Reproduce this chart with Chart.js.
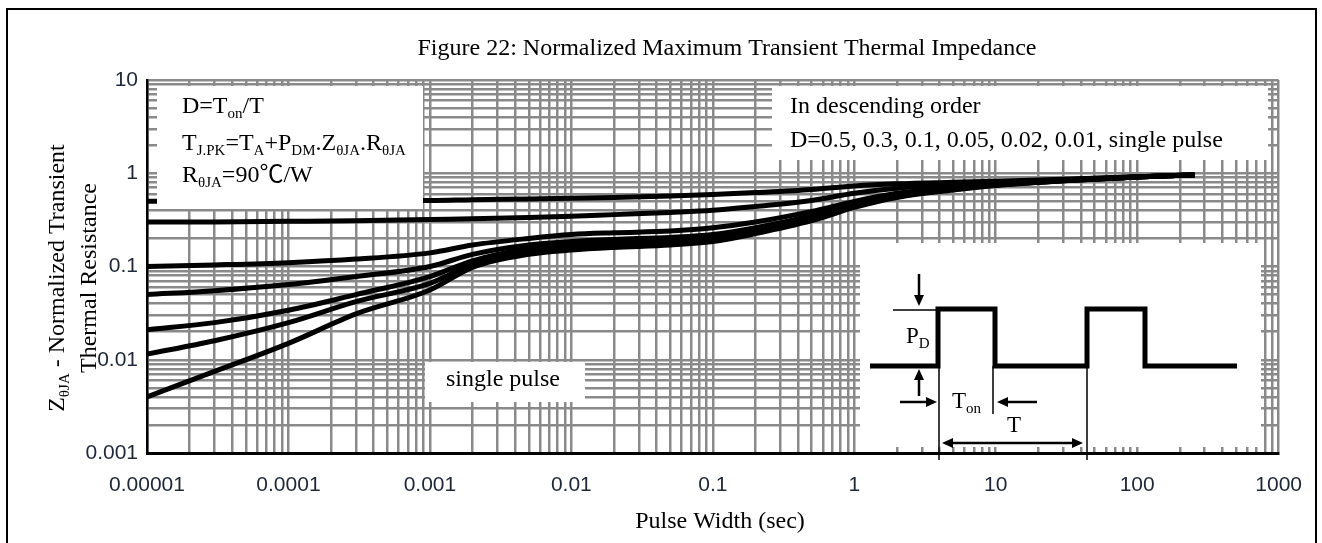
<!DOCTYPE html>
<html>
<head>
<meta charset="utf-8">
<script src="https://cdn.jsdelivr.net/npm/chart.js@4.4.1/dist/chart.umd.min.js"></script>
<style>
  html, body { margin: 0; padding: 0; background: #fff; }
  canvas { display: block; }
</style>
</head>
<body>
<canvas id="zthChart" width="1322" height="543"></canvas>
<script>
// pulse width in seconds
const pulseWidth = [1e-5, 3e-5, 1e-4, 3e-4, 1e-3, 2e-3, 5e-3, 1e-2, 2e-2, 5e-2, 0.1, 0.2, 0.5, 1, 2, 5, 10, 30, 100, 255];

// normalized Zth
const d05    = [0.50, 0.50, 0.50, 0.51, 0.51, 0.52, 0.53, 0.54, 0.55, 0.57, 0.59, 0.62, 0.67, 0.73, 0.77, 0.80, 0.82, 0.86, 0.92, 0.96];
const d03    = [0.30, 0.30, 0.305, 0.31, 0.32, 0.325, 0.335, 0.345, 0.36, 0.38, 0.40, 0.44, 0.51, 0.61, 0.69, 0.76, 0.80, 0.85, 0.92, 0.96];
const d01    = [0.100, 0.104, 0.110, 0.120, 0.140, 0.170, 0.20, 0.22, 0.23, 0.24, 0.26, 0.30, 0.39, 0.50, 0.61, 0.71, 0.77, 0.84, 0.91, 0.96];
const d005   = [0.050, 0.055, 0.064, 0.078, 0.100, 0.135, 0.170, 0.185, 0.195, 0.205, 0.22, 0.26, 0.35, 0.47, 0.58, 0.69, 0.76, 0.84, 0.91, 0.96];
const d002   = [0.021, 0.025, 0.034, 0.050, 0.078, 0.115, 0.155, 0.170, 0.180, 0.19, 0.205, 0.245, 0.33, 0.45, 0.57, 0.68, 0.75, 0.83, 0.91, 0.96];
const d001   = [0.0115, 0.016, 0.025, 0.042, 0.066, 0.105, 0.145, 0.160, 0.170, 0.18, 0.195, 0.235, 0.32, 0.44, 0.56, 0.67, 0.75, 0.83, 0.91, 0.96];
const single = [0.004, 0.0075, 0.015, 0.031, 0.056, 0.098, 0.135, 0.150, 0.160, 0.17, 0.185, 0.225, 0.31, 0.43, 0.55, 0.66, 0.74, 0.83, 0.91, 0.96];

const seriesNames = ["D=0.5", "D=0.3", "D=0.1", "D=0.05", "D=0.02", "D=0.01", "single pulse"];
const seriesData = [d05, d03, d01, d005, d002, d001, single];

const xTickLabels = ["0.00001", "0.0001", "0.001", "0.01", "0.1", "1", "10", "100", "1000"];
const yTickLabels = ["0.001", "0.01", "0.1", "1", "10"];

const SERIF = '"Liberation Serif", "Noto Sans CJK SC", serif';
const SANS = '"Liberation Sans", Arial, sans-serif';

// all 1..9 multiples per decade so the grid looks like log paper
function logTicks(lo, hi) {
  const out = [];
  for (let e = lo; e < hi; e++) {
    for (let m = 1; m <= 9; m++) out.push(m * Math.pow(10, e));
  }
  out.push(Math.pow(10, hi));
  return out.map(v => ({ value: v }));
}

function decadeLabel(value, labels, firstExp) {
  const e = Math.log10(value);
  const r = Math.round(e);
  if (Math.abs(e - r) < 1e-6) return labels[r - firstExp];
  return "";
}

// text with subscripts: parts = [[text, isSub], ...]
function richText(ctx, parts, x, y, size, align) {
  const big = size + "px " + SERIF;
  const small = Math.round(size * 0.64) + "px " + SERIF;
  let w = 0;
  parts.forEach(p => { ctx.font = p[1] ? small : big; w += ctx.measureText(p[0]).width; });
  let cx = align === "center" ? x - w / 2 : x;
  ctx.textAlign = "left";
  ctx.textBaseline = "alphabetic";
  parts.forEach(p => {
    ctx.font = p[1] ? small : big;
    ctx.fillText(p[0], cx, y + (p[1] ? size * 0.2 : 0));
    cx += ctx.measureText(p[0]).width;
  });
}

function arrow(ctx, x1, y1, x2, y2) {
  const a = Math.atan2(y2 - y1, x2 - x1);
  const hl = 11, hw = 5;
  ctx.beginPath();
  ctx.moveTo(x1, y1);
  ctx.lineTo(x2 - Math.cos(a) * hl, y2 - Math.sin(a) * hl);
  ctx.stroke();
  ctx.beginPath();
  ctx.moveTo(x2, y2);
  ctx.lineTo(x2 - Math.cos(a) * hl - Math.sin(a) * hw, y2 - Math.sin(a) * hl + Math.cos(a) * hw);
  ctx.lineTo(x2 - Math.cos(a) * hl + Math.sin(a) * hw, y2 - Math.sin(a) * hl - Math.cos(a) * hw);
  ctx.closePath();
  ctx.fill();
}

const decorations = {
  id: "decorations",
  afterDatasetsDraw(chart) {
    const ctx = chart.ctx;
    ctx.save();
    ctx.fillStyle = "#fff";
    // white note boxes laid over the grid
    ctx.fillRect(157, 86, 266, 123);
    ctx.fillRect(772, 86, 496, 74);
    ctx.fillRect(425, 362, 160, 40);
    ctx.fillRect(860, 243, 401, 204);

    ctx.fillStyle = "#000";
    richText(ctx, [["D=T", 0], ["on", 1], ["/T", 0]], 182, 113, 24);
    richText(ctx, [["T", 0], ["J.PK", 1], ["=T", 0], ["A", 1], ["+P", 0], ["DM", 1], [".Z", 0], ["\u03B8JA", 1], [".R", 0], ["\u03B8JA", 1]], 182, 150, 24);
    richText(ctx, [["R", 0], ["\u03B8JA", 1], ["=90\u2103/W", 0]], 182, 182, 24);

    richText(ctx, [["In descending order", 0]], 790, 113, 24);
    richText(ctx, [["D=0.5, 0.3, 0.1, 0.05, 0.02, 0.01, single pulse", 0]], 790, 147, 24);
    richText(ctx, [["single pulse", 0]], 446, 386, 24);
    ctx.restore();
  },
  afterDraw(chart) {
    const ctx = chart.ctx;
    ctx.save();
    ctx.strokeStyle = "#000";
    ctx.fillStyle = "#000";

    // pulse train sketch
    ctx.lineWidth = 5;
    ctx.lineJoin = "miter";
    ctx.beginPath();
    ctx.moveTo(870, 366);
    ctx.lineTo(938, 366); ctx.lineTo(938, 309); ctx.lineTo(995, 309); ctx.lineTo(995, 366);
    ctx.lineTo(1087, 366); ctx.lineTo(1087, 309); ctx.lineTo(1145, 309); ctx.lineTo(1145, 366);
    ctx.lineTo(1237, 366);
    ctx.stroke();

    ctx.lineWidth = 1.5;
    ctx.beginPath();
    ctx.moveTo(893, 310); ctx.lineTo(938, 310);
    ctx.moveTo(939, 366); ctx.lineTo(939, 460);
    ctx.moveTo(993, 366); ctx.lineTo(993, 414);
    ctx.moveTo(1087, 366); ctx.lineTo(1087, 460);
    ctx.stroke();

    ctx.lineWidth = 2.5;
    arrow(ctx, 919, 274, 919, 306);
    arrow(ctx, 919, 396, 919, 369);
    arrow(ctx, 900, 402, 937, 402);
    arrow(ctx, 1037, 402, 997, 402);
    arrow(ctx, 1000, 443, 942, 443);
    arrow(ctx, 1000, 443, 1083, 443);

    richText(ctx, [["P", 0], ["D", 1]], 906, 343, 23);
    richText(ctx, [["T", 0], ["on", 1]], 952, 408, 23);
    richText(ctx, [["T", 0]], 1007, 432, 23);

    // titles
    richText(ctx, [["Figure 22: Normalized Maximum Transient Thermal Impedance", 0]], 727, 55, 24, "center");
    richText(ctx, [["Pulse Width (sec)", 0]], 720, 528, 24, "center");

    ctx.save();
    ctx.translate(0, 278);
    ctx.rotate(-Math.PI / 2);
    richText(ctx, [["Z", 0], ["\u03B8JA", 1], [" - Normalized Transient", 0]], 0, 64, 24, "center");
    richText(ctx, [["Thermal Resistance", 0]], 0, 96, 24, "center");
    ctx.restore();

    // outer frame
    ctx.lineWidth = 2;
    ctx.strokeRect(7, 9, 1309, 560);
    ctx.restore();
  }
};

const datasets = seriesData.map((arr, i) => ({
  label: seriesNames[i],
  data: pulseWidth.map((x, j) => ({ x: x, y: arr[j] })),
  borderColor: "#000",
  backgroundColor: "#000",
  borderWidth: 5,
  pointRadius: 0,
  cubicInterpolationMode: "monotone",
  fill: false
}));

new Chart(document.getElementById("zthChart"), {
  type: "line",
  data: { datasets: datasets },
  options: {
    responsive: false,
    animation: false,
    events: [],
    layout: { padding: { left: 0, top: 80, right: 41, bottom: 0 } },
    plugins: { legend: { display: false }, tooltip: { enabled: false }, title: { display: false } },
    scales: {
      x: {
        type: "logarithmic",
        min: 1e-5,
        max: 1000,
        afterBuildTicks: s => { s.ticks = logTicks(-5, 3); },
        afterFit: s => { s.height = 90; },
        grid: { color: "#8a8a8a", lineWidth: 2.5, drawTicks: false },
        border: { color: "#000", width: 3 },
        ticks: {
          autoSkip: false,
          maxRotation: 0,
          padding: 20,
          color: "#1f2838",
          font: { family: SANS, size: 21 },
          callback: v => decadeLabel(v, xTickLabels, -5)
        }
      },
      y: {
        type: "logarithmic",
        min: 0.001,
        max: 10,
        afterBuildTicks: s => { s.ticks = logTicks(-3, 1); },
        afterFit: s => { s.width = 147; },
        grid: { color: "#8a8a8a", lineWidth: 2.5, drawTicks: false },
        border: { color: "#000", width: 2.5 },
        ticks: {
          autoSkip: false,
          padding: 9,
          color: "#1f2838",
          font: { family: SANS, size: 21 },
          callback: v => decadeLabel(v, yTickLabels, -3)
        }
      }
    }
  },
  plugins: [decorations]
});
</script>
</body>
</html>
